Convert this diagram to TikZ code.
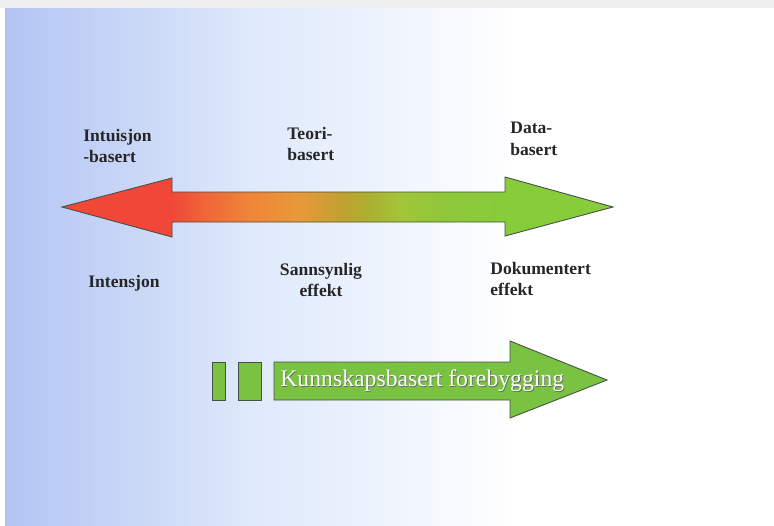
\documentclass[tikz,border=0pt]{standalone}
\usepackage{fontspec}
\setmainfont{Liberation Serif}
\usetikzlibrary{positioning}
\definecolor{bgblue}{RGB}{178,196,243}
\definecolor{bgmid}{RGB}{222,233,251}
\definecolor{kbfgreen}{RGB}{122,194,66}
\definecolor{edgegray}{RGB}{70,80,70}
\pgfdeclarehorizontalshading{spectrum}{100bp}{rgb(0bp)=(0.94,0.27,0.21); rgb(35bp)=(0.94,0.28,0.22); rgb(38bp)=(0.94,0.40,0.22); rgb(42bp)=(0.94,0.52,0.22); rgb(46.6bp)=(0.91,0.60,0.22); rgb(50.2bp)=(0.76,0.63,0.19); rgb(53bp)=(0.67,0.69,0.19); rgb(55.7bp)=(0.64,0.77,0.22); rgb(59.3bp)=(0.56,0.78,0.22); rgb(65bp)=(0.53,0.80,0.23); rgb(100bp)=(0.53,0.80,0.23)}

\begin{document}
\begin{tikzpicture}[x=0.02cm, y=-0.02cm,
    every node/.style={inner sep=0pt},
    lbl/.style={font=\bfseries\fontsize{10}{12.5}\selectfont, text=black!85},
    kbf/.style={font=\fontsize{13.5}{16}\selectfont}
  ]
  \useasboundingbox (0,0) rectangle (774,525);
  % background
  \fill[black!6] (0,0) rectangle (774,8);
  \fill[left color=bgblue, right color=bgmid] (5,8) rectangle (250,525);
  \fill[left color=bgmid, right color=white] (250,8) rectangle (520,525);

  % double arrow
  \shade[shading=spectrum, draw=edgegray, line width=0.5pt, line join=miter]
    (62,207) -- (172,178) -- (172,192) -- (505,192) -- (505,177) -- (613,207)
    -- (505,236) -- (505,222) -- (172,222) -- (172,237) -- cycle;

  \node[lbl, anchor=west, align=left] (intu) at (83,146) {Intuisjon\\-basert};
  \node[lbl, anchor=west, align=left] (teori) at (287,144) {Teori-\\basert};
  \node[lbl, anchor=west, align=left] (data) at (510,139) {Data-\\basert};

  \node[lbl, anchor=west] (inten) at (88,283) {Intensjon};
  \node[lbl, align=center] (sanns) at (321,280) {Sannsynlig\\effekt};
  \node[lbl, anchor=west, align=left] (doku) at (490,279) {Dokumentert\\effekt};

  % lower arrow
  \filldraw[fill=kbfgreen, draw=edgegray, line width=0.5pt] (212,362) rectangle (225,400);
  \filldraw[fill=kbfgreen, draw=edgegray, line width=0.5pt] (238,362) rectangle (261,400);
  \filldraw[fill=kbfgreen, draw=edgegray, line width=0.5pt, line join=miter]
    (274,362) -- (510,362) -- (510,341) -- (607,380) -- (510,418) -- (510,400)
    -- (274,400) -- cycle;
  \node[kbf, anchor=west, text=black!60] (kbfshade) at (280.8,381.8) {Kunnskapsbasert forebygging};
  \node[kbf, anchor=west, text=white] (kbftext) at (280,381) {Kunnskapsbasert forebygging};
\end{tikzpicture}
\end{document}
